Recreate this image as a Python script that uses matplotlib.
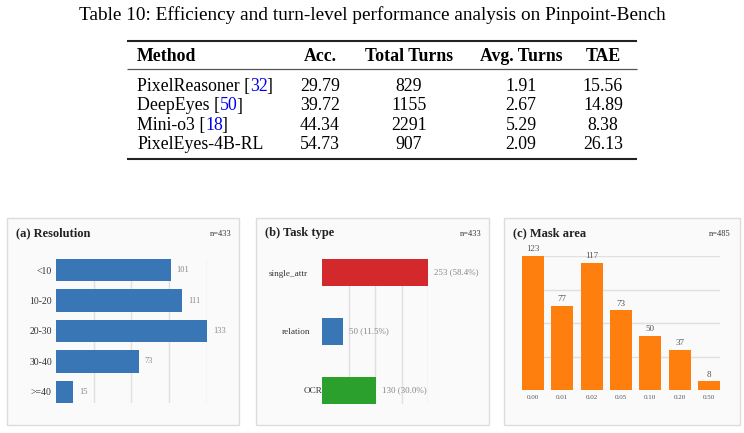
import matplotlib
matplotlib.use("Agg")
import matplotlib.pyplot as plt
from matplotlib.patches import Rectangle
from matplotlib.lines import Line2D

plt.rcParams['font.family'] = ['Liberation Serif', 'DejaVu Serif']

# ---- data ----
caption = "Table 10: Efficiency and turn-level performance analysis on Pinpoint-Bench"
headers = ["Method", "Acc.", "Total Turns", "Avg. Turns", "TAE"]
methods = ["PixelReasoner", "DeepEyes", "Mini-o3", "PixelEyes-4B-RL"]
citations = ["32", "50", "18", ""]
acc = ["29.79", "39.72", "44.34", "54.73"]
total_turns = ["829", "1155", "2291", "907"]
avg_turns = ["1.91", "2.67", "5.29", "2.09"]
tae = ["15.56", "14.89", "8.38", "26.13"]

res_labels = ["<10", "10-20", "20-30", "30-40", ">=40"]
res_counts = [101, 111, 133, 73, 15]

task_labels = ["single_attr", "relation", "OCR"]
task_counts = [253, 50, 130]

mask_labels = ["0.00", "0.01", "0.02", "0.05", "0.10", "0.20", "0.50"]
mask_counts = [123, 77, 117, 73, 50, 37, 8]

BLUE = "#3876b6"
RED = "#d3292c"
GREEN = "#2ca02c"
ORANGE = "#ff7f0e"
task_colors = [RED, BLUE, GREEN]

W, H = 744, 433
fig = plt.figure(figsize=(W / 100, H / 100), dpi=100)
r = fig.canvas.get_renderer()


def fx(px):
    return px / W


def fy(py):
    return 1 - py / H


def ax_at(x0, y0, x1, y1):
    a = fig.add_axes([fx(x0), fy(y1), (x1 - x0) / W, (y1 - y0) / H])
    a.patch.set_alpha(0)
    for s in a.spines.values():
        s.set_visible(False)
    return a


def hline(x0, x1, y, lw, color):
    fig.add_artist(Line2D([fx(x0), fx(x1)], [fy(y), fy(y)], transform=fig.transFigure,
                          lw=lw, color=color, solid_capstyle='butt'))


def text_w(s, **kw):
    # width in pixels of a string, measured with a throwaway text
    t = fig.text(0, 0, s, **kw)
    w = t.get_window_extent(r).width
    t.remove()
    return w


# ---- table ----
TS = 12.8
fig.text(fx(372), fy(19.5), caption, ha='center', va='baseline', fontsize=13.9)
hline(127, 637, 40.5, 1.5, '#222222')
hline(127, 637, 68.8, 0.9, '#555555')
hline(127, 637, 158.5, 1.5, '#222222')

col_x = [137, 320, 409, 521, 603]
fig.text(fx(col_x[0]), fy(61), headers[0], ha='left', va='baseline', fontsize=TS, fontweight='bold')
for h, cx in zip(headers[1:], col_x[1:]):
    fig.text(fx(cx), fy(61), h, ha='center', va='baseline', fontsize=TS, fontweight='bold')

row_y = [91, 110.5, 130, 149.3]
for i, yb in enumerate(row_y):
    x0 = col_x[0]
    if citations[i]:
        pre = methods[i] + " ["
        fig.text(fx(x0), fy(yb), pre, ha='left', va='baseline', fontsize=TS)
        x1 = x0 + text_w(pre, fontsize=TS)
        fig.text(fx(x1), fy(yb), citations[i], ha='left', va='baseline', fontsize=TS, color='#0000ee')
        x2 = x0 + text_w(pre + citations[i], fontsize=TS) - 1.5
        fig.text(fx(x2), fy(yb), "]", ha='left', va='baseline', fontsize=TS)
    else:
        fig.text(fx(x0), fy(yb), methods[i], ha='left', va='baseline', fontsize=TS)
    for col, cx in zip([acc, total_turns, avg_turns, tae], col_x[1:]):
        fig.text(fx(cx), fy(yb), col[i], ha='center', va='baseline', fontsize=TS)

# ---- panels ----
panels = [(7, 239), (256, 489), (504, 740)]
titles = ["(a) Resolution", "(b) Task type", "(c) Mask area"]
ns = [sum(res_counts), sum(task_counts), sum(mask_counts)]
n_pad = [7, 7, 9]
for (x0, x1), ttl, n, pd in zip(panels, titles, ns, n_pad):
    fig.add_artist(Rectangle((fx(x0), fy(425)), (x1 - x0) / W, (425 - 218) / H,
                             transform=fig.transFigure, facecolor='#fafafa',
                             edgecolor='#dcdcdc', lw=1, zorder=-1))
    fig.text(fx(x0 + 9), fy(233), ttl, ha='left', va='center', fontsize=9,
             fontweight='bold', color='#222222')
    fig.text(fx(x1 - pd), fy(234), f"n={n}", ha='right', va='center', fontsize=6, color='#333333')

# (a) resolution
ax = ax_at(56, 259, 207, 403)
ax.barh(range(len(res_counts)), res_counts, height=0.74, color=BLUE, zorder=2)
ax.set_ylim(len(res_counts) - 1 + 0.37, -0.37)
m = max(res_counts)
ax.set_xlim(0, m)
ax.set_xticks([m * k / 4 for k in range(1, 5)])
ax.set_xticklabels([])
ax.grid(axis='x', color='#e0e0e0', lw=1, zorder=0)
ax.set_yticks(range(len(res_labels)))
ax.set_yticklabels(res_labels, fontsize=7, color='#333333')
ax.tick_params(length=0)
ax.tick_params(axis='y', pad=3)
for i, v in enumerate(res_counts):
    ax.annotate(str(v), (v, i), xytext=(4.3, 0), textcoords='offset points',
                va='center', fontsize=6, color='#888888')

# (b) task type
ax = ax_at(322, 259, 428, 404)
ax.barh(range(len(task_counts)), task_counts, height=0.46, color=task_colors, zorder=2)
ax.set_ylim(len(task_counts) - 1 + 0.23, -0.23)
m = max(task_counts)
nt = sum(task_counts)
ax.set_xlim(0, m)
ax.set_xticks([m * k / 4 for k in range(1, 5)])
ax.set_xticklabels([])
ax.grid(axis='x', color='#e0e0e0', lw=1, zorder=0)
ax.set_yticks(range(len(task_labels)))
ax.set_yticklabels(task_labels, fontsize=6.6, color='#333333')
ax.tick_params(length=0)
for tk, p in zip(ax.yaxis.get_major_ticks(), [10, 8.6, 0]):
    tk.set_pad(p)
for i, v in enumerate(task_counts):
    ax.annotate(f"{v} ({v / nt * 100:.1f}%)", (v, i), xytext=(4.3, 0), textcoords='offset points',
                va='center', fontsize=6.5, color='#888888')

# (c) mask area
ax = ax_at(522, 256, 720, 390)
ax.bar(range(len(mask_counts)), mask_counts, width=0.75, color=ORANGE, zorder=2)
ax.set_xlim(-0.375, len(mask_counts) - 1 + 0.375)
m = max(mask_counts)
ax.set_ylim(0, m)
ax.set_yticks([m * k / 4 for k in range(1, 5)])
ax.set_yticklabels([])
ax.grid(axis='y', color='#e0e0e0', lw=1, zorder=0)
ax.set_xticks(range(len(mask_labels)))
ax.set_xticklabels(mask_labels, fontsize=5, color='#555555')
ax.tick_params(length=0)
ax.tick_params(axis='x', pad=3.5)
for i, v in enumerate(mask_counts):
    ax.annotate(str(v), (i, v), xytext=(0, 2), textcoords='offset points',
                ha='center', va='bottom', fontsize=6.5, color='#555555')

fig.savefig("out.png", dpi=100)
